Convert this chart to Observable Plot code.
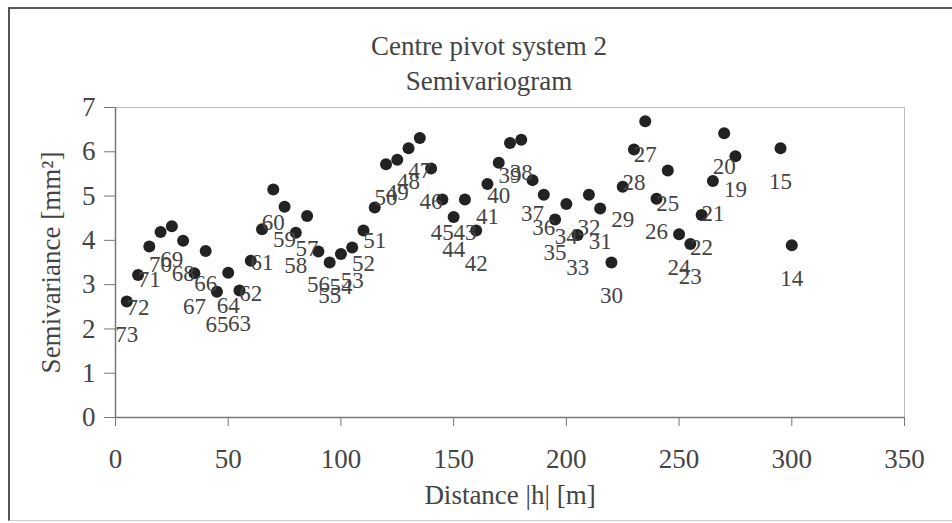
<!DOCTYPE html>
<html>
<head>
<meta charset="utf-8">
<script src="https://cdn.jsdelivr.net/npm/d3@7"></script>
<script src="https://cdn.jsdelivr.net/npm/@observablehq/plot@0.6"></script>
<style>
  html, body { margin: 0; padding: 0; background: #fff; overflow: hidden; }
  #chart { position: relative; width: 952px; height: 523px; overflow: hidden;
           font-family: "Liberation Serif", "Times New Roman", serif; color: #444; }
  #frame { position: absolute; left: 8px; top: 7px; width: 1000px; height: 511px;
           border-top: 2px solid #555; border-left: 2px solid #555; border-bottom: 1px solid #ccc; }
  #plot { position: absolute; left: 0; top: 0; }
  #title { position: absolute; left: 489px; top: 29px; transform: translateX(-50%);
           text-align: center; font-size: 27px; line-height: 35px; white-space: nowrap; }
</style>
</head>
<body>
<div id="chart">
  <div id="frame"></div>
  <div id="plot"></div>
  <div id="title">Centre pivot system 2<br>Semivariogram</div>
</div>
<script>
// Lag distance (m) of each semivariogram point
const distances = [5, 10, 15, 20, 25, 30, 35, 40, 45, 50, 55, 60, 65, 70, 75, 80, 85, 90, 95, 100,
  105, 110, 115, 120, 125, 130, 135, 140, 145, 150, 155, 160, 165, 170, 175, 180, 185, 190, 195, 200,
  205, 210, 215, 220, 225, 230, 235, 240, 245, 250, 255, 260, 265, 270, 275, 295, 300];

// Semivariance (mm²) at each lag
const semivariance = [2.62, 3.22, 3.86, 4.19, 4.32, 3.99, 3.26, 3.76, 2.84, 3.27, 2.87, 3.54, 4.25, 5.15,
  4.76, 4.17, 4.55, 3.75, 3.50, 3.69, 3.84, 4.22, 4.74, 5.72, 5.82, 6.08, 6.31, 5.62, 4.92, 4.53,
  4.92, 4.22, 5.27, 5.75, 6.20, 6.27, 5.36, 5.03, 4.47, 4.82, 4.12, 5.03, 4.72, 3.50, 5.21, 6.05,
  6.69, 4.94, 5.58, 4.14, 3.92, 4.57, 5.34, 6.42, 5.90, 6.08, 3.89];

// Point labels
const pointLabels = [73, 72, 71, 70, 69, 68, 67, 66, 65, 64, 63, 62, 61, 60, 59, 58, 57, 56, 55, 54,
  53, 52, 51, 50, 49, 48, 47, 46, 45, 44, 43, 42, 41, 40, 39, 38, 37, 36, 35, 34,
  33, 32, 31, 30, 29, 28, 27, 26, 25, 24, 23, 22, 21, 20, 19, 15, 14];

const xTicks = [0, 50, 100, 150, 200, 250, 300, 350];
const yTicks = [0, 1, 2, 3, 4, 5, 6, 7];

const data = distances.map((d, i) => ({distance: d, gamma: semivariance[i], label: String(pointLabels[i])}));

const serif = "'Liberation Serif', 'Times New Roman', serif";

const chart = Plot.plot({
  width: 952,
  height: 523,
  marginLeft: 115,
  marginRight: 48,
  marginTop: 107,
  marginBottom: 106,
  x: {domain: [0, 350]},
  y: {domain: [0, 7]},
  style: {fontFamily: serif, color: "#444", background: "transparent", overflow: "visible"},
  marks: [
    Plot.frame({stroke: "#bdbdbd"}),
    Plot.axisX({ticks: xTicks, tickFormat: d3.format("d"), tickSize: 9, tickPadding: 22, fontSize: 27, stroke: "#777",
      label: "Distance |h| [m]", labelAnchor: "center", labelArrow: "none", labelOffset: 86}),
    Plot.axisY({ticks: yTicks, tickFormat: d3.format("d"), tickSize: 11, tickPadding: 9, fontSize: 27, stroke: "#777",
      label: "Semivariance [mm²]", labelAnchor: "center", labelArrow: "none", labelOffset: 75}),
    Plot.ruleY([0], {stroke: "#777", strokeWidth: 1.5}),
    Plot.ruleX([0], {stroke: "#777", strokeWidth: 1.5}),
    Plot.dot(data, {x: "distance", y: "gamma", r: 6, fill: "#222", stroke: "none"}),
    Plot.text(data, {x: "distance", y: "gamma", text: "label", dy: 33, fontSize: 23, fill: "#444"})
  ]
});

document.getElementById("plot").appendChild(chart);
</script>
</body>
</html>
